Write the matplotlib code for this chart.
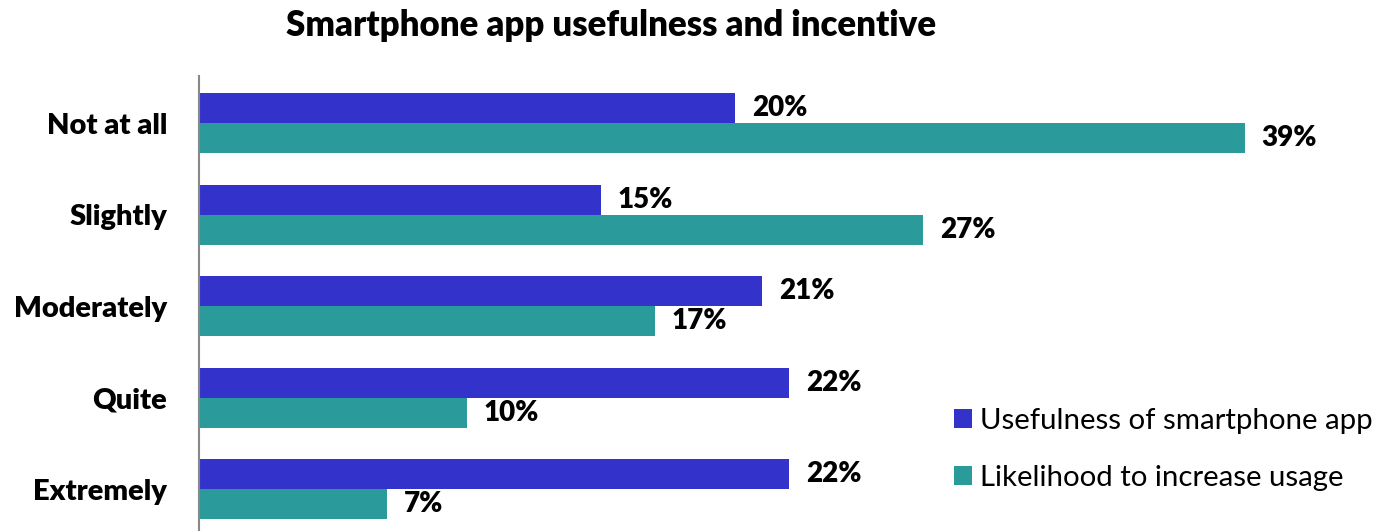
import numpy as np
import matplotlib.pyplot as plt

categories = ['Not at all', 'Slightly', 'Moderately', 'Quite', 'Extremely']
usefulness = [20, 15, 21, 22, 22]
likelihood = [39, 27, 17, 10, 7]
series_names = ['Usefulness of smartphone app', 'Likelihood to increase usage']

blue = '#3333CC'
teal = '#2B9A9A'

plt.rcParams['font.family'] = ['Lato', 'DejaVu Sans']

W, H = 1383, 531
fig = plt.figure(figsize=(W / 100, H / 100), dpi=100)
ax = fig.add_axes([199 / W, 0, 1 - 199 / W, 1 - 76 / H])

y = np.arange(len(categories))
h = 0.328
b1 = ax.barh(y - h / 2, usefulness, height=h, color=blue, label=series_names[0])
b2 = ax.barh(y + h / 2, likelihood, height=h, color=teal, label=series_names[1])

for bars, vals in [(b1, usefulness), (b2, likelihood)]:
    for bar, v in zip(bars, vals):
        ax.annotate(f'{v}%', (v, bar.get_y() + bar.get_height() / 2),
                    xytext=(12, 0), textcoords='offset points',
                    ha='left', va='center', fontsize=20, fontweight='heavy')

ax.set_xlim(0, 1184 / 26.82)
ax.set_ylim(4.459, -0.514)
ax.set_yticks(y)
ax.set_yticklabels(categories, fontsize=21, fontweight='heavy')
ax.tick_params(axis='y', length=0, pad=23)
ax.set_xticks([])
for s in ['top', 'right', 'bottom']:
    ax.spines[s].set_visible(False)
ax.spines['left'].set_color('#888888')
ax.spines['left'].set_linewidth(1.5)

fig.text(611 / W, 1 - 25 / H, 'Smartphone app usefulness and incentive',
         ha='center', va='center', fontsize=25, fontweight='heavy')

fig.legend(handles=[b1, b2], labels=series_names, loc='upper left',
           bbox_to_anchor=(954 / W, 1 - 408 / H), frameon=False, fontsize=21.2,
           handlelength=0.6, handleheight=0.6, handletextpad=0.3,
           labelspacing=1.05, borderpad=0, borderaxespad=0)

fig.savefig('out.png', dpi=100)
